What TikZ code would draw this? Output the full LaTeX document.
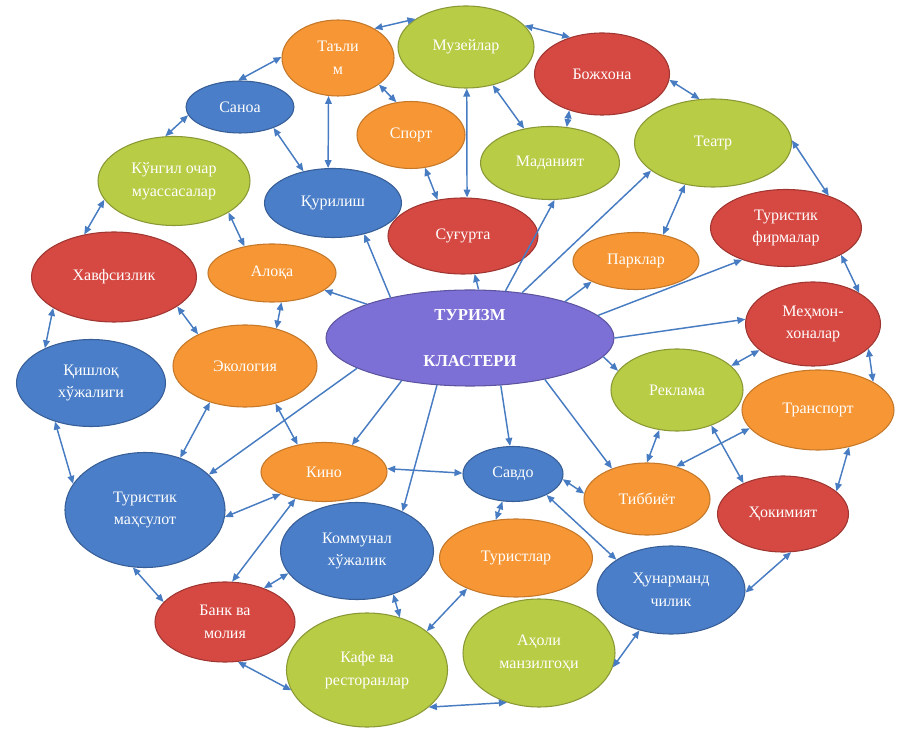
\documentclass[tikz,border=0pt]{standalone}
\usepackage{fontspec}
\setmainfont{Liberation Serif}
\usepackage{tikz}
\usetikzlibrary{arrows.meta,shapes.geometric}
\definecolor{bubBlue}{RGB}{74,126,200}
\definecolor{bubGreen}{RGB}{184,204,70}
\definecolor{bubOrange}{RGB}{246,150,52}
\definecolor{bubRed}{RGB}{214,72,66}
\definecolor{bubPurple}{RGB}{124,112,214}
\definecolor{linkBlue}{RGB}{72,124,194}

\begin{document}
\begin{tikzpicture}[x=0.75pt,y=-0.75pt]

\tikzset{bubble/.style={shape=ellipse,inner sep=0pt,text=white,align=center,line width=0.8pt,
  font=\fontsize{12}{17}\selectfont},
blue/.style={bubble,fill=bubBlue,draw=bubBlue!75!black},
green/.style={bubble,fill=bubGreen,draw=bubGreen!75!black},
orange/.style={bubble,fill=bubOrange,draw=bubOrange!80!black},
red/.style={bubble,fill=bubRed,draw=bubRed!75!black},
sz/.style 2 args={minimum width=#1*0.75pt,minimum height=#2*0.75pt},
link/.style={draw=linkBlue,line width=1.1pt,{Triangle[length=6pt,width=5pt]}-{Triangle[length=6pt,width=5pt]}},
ray/.style={draw=linkBlue,line width=1.1pt,-{Triangle[length=6pt,width=5pt]}}}

\useasboundingbox (0,0) rectangle (903,730);

% centre
\node (turizm) at (470,338) [bubble,fill=bubPurple,draw=bubPurple!75!black,sz={288}{96},font=\fontsize{12.5}{17}\bfseries] {ТУРИЗМ\\[17pt]КЛАСТЕРИ};

% top row
\node (talim) at (338,58) [orange,sz={112}{76}] {Таъли\\м};
\node (muzey) at (466,47) [green,sz={136}{82}] {Музейлар};
\node (bojxona) at (602,74) [red,sz={135}{82}] {Божхона};
\node (sanoa) at (240,107) [blue,sz={108}{52}] {Саноа};
\node (sport) at (411,135) [orange,sz={108}{67}] {Спорт};
\node (madaniyat) at (550,163) [green,sz={139}{73}] {Маданият};
\node (teatr) at (713,143) [green,sz={157}{88}] {Театр};
\node (kungil) at (174,181) [green,sz={152}{89}] {Кўнгил очар\\муассасалар};
\node (qurilish) at (333,203) [blue,sz={137}{69}] {Қурилиш};
\node (sugurta) at (463,236) [red,sz={150}{76}] {Суғурта};

% left side
\node (xavf) at (114,277) [red,sz={165}{90}] {Хавфсизлик};
\node (aloqa) at (272,273) [orange,sz={128}{58}] {Алоқа};
\node (qishloq) at (91,383) [blue,sz={149}{87}] {Қишлоқ\\хўжалиги};
\node (ekologiya) at (245,366) [orange,sz={144}{82}] {Экология};

% right side
\node (park) at (636,261) [orange,sz={126}{57}] {Парклар};
\node (firma) at (786,228) [red,sz={151}{77}] {Туристик\\фирмалар};
\node (mehmon) at (813,324) [red,sz={135}{84}] {Меҳмон-\\хоналар};
\node (reklama) at (677,390) [green,sz={132}{82}] {Реклама};
\node (transport) at (818,410) [orange,sz={152}{80}] {Транспорт};

% bottom
\node (kino) at (324,472) [orange,sz={126}{59}] {Кино};
\node (savdo) at (513,474) [blue,sz={100}{55}] {Савдо};
\node (tibbiyot) at (647,499) [orange,sz={126}{72}] {Тиббиёт};
\node (hokimiyat) at (783,514) [red,sz={131}{76}] {Ҳокимият};
\node (mahsulot) at (145,510) [blue,sz={160}{115}] {Туристик\\маҳсулот};
\node (kommunal) at (357,551) [blue,sz={153}{97}] {Коммунал\\хўжалик};
\node (turistlar) at (516,558) [orange,sz={153}{78}] {Туристлар};
\node (hunar) at (671,590) [blue,sz={148}{88}] {Ҳунарманд\\чилик};
\node (bank) at (225,622) [red,sz={140}{80}] {Банк ва\\молия};
\node (kafe) at (367,670) [green,sz={161}{114}] {Кафе ва\\ресторанлар};
\node (aholi) at (539,653) [green,sz={152}{108}] {Аҳоли\\манзилгоҳи};

% outer ring
\foreach \a/\b in {talim.39/muzey.151, muzey.20/bojxona.131, bojxona.-5/teatr.107,
  teatr.2/firma.37, firma.-26/mehmon.34, mehmon.-24/transport.27, transport.-50/hokimiyat.23,
  hokimiyat.-78/hunar.-2, hunar.232/aholi.349, aholi.237/kafe.-31, kafe.195/bank.288,
  bank.162/mahsulot.258, mahsulot.160/qishloq.227, qishloq.143/xavf.207, xavf.125/kungil.195,
  kungil.101/sanoa.189, sanoa.94/talim.179}
  \draw[link] (\a) -- (\b);

% inner links
\foreach \a/\b in {talim.256/qurilish.98, talim.-33/sport.114, sanoa.-32/qurilish.133,
  kungil.-30/aloqa.136, sport.-67/sugurta.125, muzey.-89/sugurta.84, muzey.-55/madaniyat.127,
  bojxona.228/madaniyat.65, teatr.236/park.44, aloqa.-72/ekologiya.50, xavf.-25/ekologiya.146,
  ekologiya.-51/kino.134, ekologiya.226/mahsulot.56, kino.207/mahsulot.-5, kino.3/savdo.179,
  kino.223/bank.80, kommunal.198/bank.41, kommunal.-50/kafe.58, turistlar.212/kafe.33,
  savdo.249/turistlar.118, savdo.-6/tibbiyot.175, savdo.-32/hunar.151, tibbiyot.90/reklama.246,
  tibbiyot.48/transport.195, reklama.-46/hokimiyat.142, reklama.24/mehmon.206}
  \draw[link] (\a) -- (\b);

% from the centre
\foreach \a/\b in {turizm/aloqa, turizm.153/qurilish.-45, turizm.80/sugurta.-73,
  turizm.53/madaniyat.-83, turizm.41/teatr.204, turizm.21/park.205, turizm.10/firma.216,
  turizm.0/mehmon.176, turizm.-8/reklama.162, turizm.-29/tibbiyot.139, turizm.-57/savdo.96,
  turizm.235/kommunal.41, turizm.212/kino.44, turizm.195/mahsulot.29}
  \draw[ray] (\a) -- (\b);

\end{tikzpicture}
\end{document}
